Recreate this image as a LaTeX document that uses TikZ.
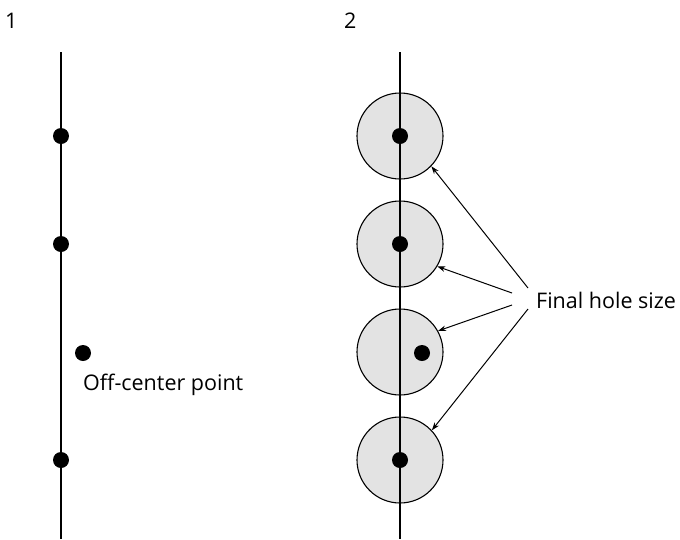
\documentclass[tikz,border=0pt]{standalone}
\usepackage{fontspec}
\setmainfont{Open Sans}
\usetikzlibrary{arrows.meta}
\begin{document}
\begin{tikzpicture}[x=1pt,y=-1pt,
  axis/.style={line width=1.1pt},
  dot/.style={circle,fill=black,inner sep=0pt,minimum size=16pt},
  hole/.style={circle,draw=black,line width=1.1pt,fill=gray!22,inner sep=0pt,minimum size=86pt},
  lbl/.style={inner sep=0pt,font=\fontsize{21.5}{25}\selectfont},
  ptr/.style={line width=1pt,-{Stealth[length=8pt,width=5.5pt]}}]
\useasboundingbox (0,0) rectangle (680,539);
% panel labels
\node[lbl,anchor=base west] (n1) at (5,28) {1};
\node[lbl,anchor=base west] (n2) at (344,28) {2};
% left panel
\coordinate (lt) at (61,52);
\coordinate (lb) at (61,539);
\draw[axis] (lt) -- (lb);
\node[dot] (d1) at (61,136) {};
\node[dot] (d2) at (61,244) {};
\node[dot] (d3) at (61,460) {};
\node[dot] (doff) at (83,353) {};
\node[lbl,anchor=base west] (offl) at (83,390) {Off-center point};
% right panel
\node[hole] (c1) at (400,136) {};
\node[hole] (c2) at (400,244) {};
\node[hole] (c3) at (400,352) {};
\node[hole] (c4) at (400,460) {};
\coordinate (rt) at (400,52);
\coordinate (rb) at (400,539);
\draw[axis] (rt) -- (rb);
\node[dot] (e1) at (400,136) {};
\node[dot] (e2) at (400,244) {};
\node[dot] (e3) at (422,353) {};
\node[dot] (e4) at (400,460) {};
\node[lbl,anchor=base west] (fhs) at (536,308) {Final hole size};
\coordinate (s1) at (528,288);
\coordinate (s2) at (512,293);
\coordinate (s3) at (512,305);
\coordinate (s4) at (528,309);
\draw[ptr] (s1) -- (c1.-44);
\draw[ptr] (s2) -- (c2.-31);
\draw[ptr] (s3) -- (c3.29);
\draw[ptr] (s4) -- (c4.43);
\end{tikzpicture}
\end{document}
